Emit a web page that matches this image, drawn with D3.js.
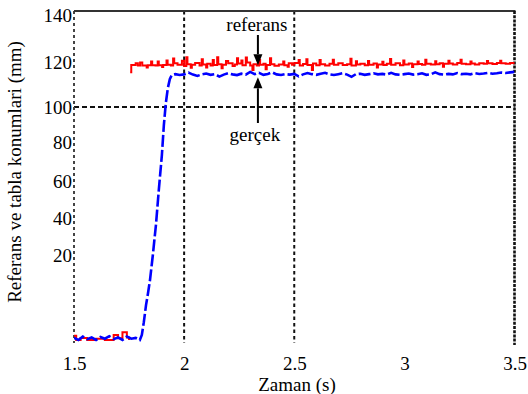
<!DOCTYPE html>
<html>
<head>
<meta charset="utf-8">
<script src="https://cdn.jsdelivr.net/npm/d3@7/dist/d3.min.js"></script>
<style>
  html, body { margin: 0; padding: 0; background: #fff; }
  svg { display: block; }
</style>
</head>
<body>
<svg id="chart" width="528" height="394"></svg>
<script>
// ---------- data ----------
const xTicks = [1.5, 2, 2.5, 3, 3.5];
const yTicks = [20, 40, 60, 80, 100, 120, 140];
const gridX = [2, 2.5];
const gridY = [100];
const xLabel = "Zaman (s)";
const yLabel = "Referans ve tabla konumlari (mm)";
const annoLabels = ["referans", "gerçek"];

// reference signal, before and after the step (s, mm)
const refLow = [[1.50,1.0],[1.51,0],[1.53,0.5],[1.56,0],[1.60,0.3],[1.64,0],[1.68,1.2],[1.70,0.4],[1.72,1.8],[1.74,0.6],[1.75,0]];
const refHigh = [
  [1.755,115.5],[1.76,118.7],[1.78,119.5],[1.79,118.4],[1.80,119.8],[1.81,118.5],[1.83,117.6],[1.835,118.6],[1.85,120.2],[1.855,118.6],
  [1.87,118.5],[1.88,120.2],[1.885,118.6],[1.90,117.8],[1.905,118.7],[1.92,120.6],[1.925,118.8],[1.94,118.4],[1.95,121.5],[1.955,119.5],
  [1.97,118.8],[1.99,120.5],[2.00,118.2],[2.01,122.0],[2.015,119.0],[2.03,117.5],[2.035,118.8],[2.05,119.6],[2.07,118.4],[2.08,121.2],
  [2.085,118.9],[2.10,117.6],[2.105,119.2],[2.12,118.5],[2.13,120.8],[2.135,118.7],[2.15,122.0],[2.155,119.0],[2.17,117.2],[2.175,118.8],
  [2.19,120.4],[2.20,119.5],[2.22,118.2],[2.23,118.9],[2.24,121.6],[2.245,119.3],[2.26,120.6],[2.265,118.6],[2.28,121.9],[2.285,119.8],
  [2.30,118.4],[2.31,116.4],[2.315,119.0],[2.33,118.5],[2.34,121.0],[2.345,118.8],[2.36,119.2],[2.37,116.8],[2.375,118.7],[2.39,121.6],
  [2.395,119.0],[2.41,118.3],[2.43,118.9],[2.45,120.2],[2.455,118.6],[2.47,117.9],[2.475,119.4],[2.49,118.8],[2.50,119.6],[2.52,120.8],
  [2.525,118.5],[2.54,119.1],[2.555,121.2],[2.56,118.7],[2.58,116.5],[2.585,119.3],[2.60,118.6],[2.615,120.9],[2.62,119.0],[2.64,118.4],
  [2.66,119.2],[2.675,121.0],[2.68,118.8],[2.70,119.5],[2.72,118.7],[2.74,119.0],[2.755,121.4],[2.76,118.5],[2.78,120.3],[2.785,118.9],
  [2.80,119.2],[2.82,118.6],[2.835,120.4],[2.84,118.8],[2.86,119.3],[2.875,117.6],[2.88,118.9],[2.90,120.1],[2.905,118.7],[2.92,119.2],
  [2.935,121.3],[2.94,118.8],[2.96,119.4],[2.98,118.6],[2.995,120.6],[3.00,118.9],[3.02,119.3],[3.035,117.8],[3.04,119.0],[3.06,120.2],
  [3.065,119.1],[3.08,118.8],[3.095,121.0],[3.10,119.2],[3.12,118.9],[3.14,120.3],[3.145,119.0],[3.16,119.4],[3.175,117.9],[3.18,119.2],
  [3.20,120.5],[3.205,119.3],[3.22,118.9],[3.24,119.6],[3.255,121.0],[3.26,119.2],[3.28,119.0],[3.30,120.2],[3.305,119.3],[3.32,118.9],
  [3.34,119.5],[3.36,119.2],[3.375,120.4],[3.38,119.4],[3.40,119.1],[3.42,119.6],[3.435,120.5],[3.44,119.4],[3.46,119.2],[3.48,119.6],
  [3.50,119.0]
];

// actual table position (s, mm)
const actual = [
  [1.50,0.5],[1.52,0],[1.54,0.8],[1.56,0.2],[1.58,0.6],[1.60,0],[1.62,0.7],[1.64,0.3],[1.66,0.9],[1.68,0.2],
  [1.70,0.6],[1.72,0],[1.74,0.8],[1.76,0.3],[1.78,0.5],[1.799,0],[1.808,1.2],[1.817,4.2],[1.827,8.2],[1.836,11],
  [1.845,14.1],[1.858,20],[1.872,36.2],[1.885,55.1],[1.899,73.3],[1.908,89.7],[1.917,101.8],[1.926,108.4],
  [1.935,112.4],[1.944,114.2],
  [1.96,114.6],[1.98,114.2],[2.00,114.5],[2.02,115.3],[2.04,114.4],[2.06,113.8],[2.08,114.5],[2.10,114.9],
  [2.12,114.3],[2.14,114.6],[2.16,113.5],[2.18,114.4],[2.20,115.0],[2.22,114.5],[2.24,114.2],[2.26,114.8],
  [2.28,114.4],[2.30,115.6],[2.32,114.6],[2.34,115.2],[2.36,114.3],[2.38,114.7],[2.40,115.4],[2.42,114.5],
  [2.44,114.2],[2.46,114.6],[2.48,114.4],[2.50,114.7],[2.52,113.6],[2.54,114.5],[2.56,115.1],[2.58,114.6],
  [2.60,114.3],[2.62,114.8],[2.64,115.2],[2.66,114.5],[2.68,114.2],[2.70,114.6],[2.72,115.0],[2.74,114.4],
  [2.76,113.4],[2.78,114.6],[2.80,114.8],[2.82,114.3],[2.84,114.6],[2.86,115.0],[2.88,114.5],[2.90,114.7],
  [2.92,114.4],[2.94,115.2],[2.96,114.5],[2.98,114.3],[3.00,114.6],[3.02,114.9],[3.04,114.4],[3.06,114.6],
  [3.08,115.0],[3.10,114.3],[3.12,114.5],[3.14,115.4],[3.16,114.6],[3.18,114.4],[3.20,114.7],[3.22,114.5],
  [3.24,115.1],[3.26,114.6],[3.28,114.8],[3.30,114.5],[3.32,115.0],[3.34,114.7],[3.36,114.9],[3.38,115.2],
  [3.40,114.8],[3.42,115.0],[3.44,115.3],[3.46,115.1],[3.48,115.4],[3.50,115.6]
];

// ---------- layout ----------
const svg = d3.select("#chart");
const pLeft = 74, pRight = 514.5, pTop = 11, pBottom = 343;
const FS = 19;
const FONT = "Liberation Serif";

const x = d3.scaleLinear().domain([1.5, 3.5]).range([pLeft, pRight]);
// the original axis labels are unevenly spaced; a piecewise linear scale reproduces them
const y = d3.scaleLinear()
  .domain([0, 20, 40, 60, 80, 100, 120, 140])
  .range([340, 255, 218, 181, 142, 107, 62, 15]);

svg.append("defs").append("clipPath").attr("id", "clip")
  .append("rect").attr("x", pLeft).attr("y", pTop).attr("width", pRight - pLeft).attr("height", pBottom - pTop + 2);

// ---------- grid ----------
svg.append("g").selectAll("line").data(gridX).join("line")
  .attr("x1", d => x(d)).attr("x2", d => x(d))
  .attr("y1", pTop).attr("y2", pBottom)
  .attr("stroke", "#111").attr("stroke-width", 2).attr("stroke-dasharray", "3.5,3");

svg.append("g").selectAll("line").data(gridY).join("line")
  .attr("x1", pLeft).attr("x2", pRight)
  .attr("y1", d => y(d)).attr("y2", d => y(d))
  .attr("stroke", "#111").attr("stroke-width", 2).attr("stroke-dasharray", "5,3");

// frame
svg.append("line").attr("x1", pLeft).attr("x2", pLeft).attr("y1", pTop).attr("y2", pBottom)
  .attr("stroke", "#444").attr("stroke-width", 2).attr("stroke-dasharray", "3,3");
svg.append("line").attr("x1", pLeft).attr("x2", pRight + 1).attr("y1", pTop).attr("y2", pTop)
  .attr("stroke", "#333").attr("stroke-width", 2.2);
svg.append("line").attr("x1", pRight).attr("x2", pRight).attr("y1", pTop).attr("y2", pBottom + 2)
  .attr("stroke", "#111").attr("stroke-width", 2.6).attr("stroke-dasharray", "3,1.2");

// ---------- axes ----------
const xAxis = svg.append("g").attr("transform", `translate(0,${pBottom})`)
  .call(d3.axisBottom(x).tickValues(xTicks).tickSize(0).tickPadding(0).tickFormat(d => String(d)));
xAxis.attr("font-family", FONT).attr("font-size", FS);
xAxis.select(".domain").remove();
xAxis.selectAll("text").attr("dy", null).attr("y", 27).attr("fill", "#000")
  .style("font-family", FONT).style("font-size", FS + "px");

const yAxis = svg.append("g").attr("transform", `translate(${pLeft},0)`)
  .call(d3.axisLeft(y).tickValues(yTicks).tickSize(0).tickPadding(2).tickFormat(d => String(d)));
yAxis.attr("font-family", FONT).attr("font-size", FS);
yAxis.select(".domain").remove();
yAxis.selectAll("text").attr("dy", "0.33em").attr("fill", "#000")
  .style("font-family", FONT).style("font-size", FS + "px");

function label(sel) {
  return sel.attr("font-family", FONT).attr("font-size", FS).attr("fill", "#000")
    .style("font-family", FONT).style("font-size", FS + "px");
}

label(svg.append("text")).attr("x", 297).attr("y", 391).attr("text-anchor", "middle").text(xLabel);
label(svg.append("text")).attr("transform", "translate(21,172) rotate(-90)").attr("text-anchor", "middle").text(yLabel);

// ---------- series ----------
const plot = svg.append("g").attr("clip-path", "url(#clip)");
const stepLine = d3.line().x(d => x(d[0])).y(d => y(d[1])).curve(d3.curveStepAfter);
const linLine = d3.line().x(d => x(d[0])).y(d => y(d[1]));

[refLow, refHigh].forEach(seg => {
  plot.append("path").datum(seg).attr("d", stepLine)
    .attr("fill", "none").attr("stroke", "#ff0000").attr("stroke-width", 2);
});

plot.append("path").datum(actual).attr("d", linLine)
  .attr("fill", "none").attr("stroke", "#0000ff").attr("stroke-width", 2.6)
  .attr("stroke-dasharray", "12,3");

// ---------- annotations ----------
function arrow(xp, yFrom, yTip) {
  const dir = Math.sign(yTip - yFrom);
  const headLen = 11, headW = 4.5;
  svg.append("line").attr("x1", xp).attr("x2", xp).attr("y1", yFrom).attr("y2", yTip - dir * headLen)
    .attr("stroke", "#000").attr("stroke-width", 2);
  svg.append("path")
    .attr("d", `M${xp - headW},${yTip - dir * headLen} L${xp + headW},${yTip - dir * headLen} L${xp},${yTip} Z`)
    .attr("fill", "#000");
}
const ax = x(2.335);
label(svg.append("text")).attr("x", ax - 1).attr("y", 31).attr("text-anchor", "middle").text(annoLabels[0]);
arrow(ax, 35, y(118.6));
label(svg.append("text")).attr("x", ax - 3).attr("y", 141).attr("text-anchor", "middle").text(annoLabels[1]);
arrow(ax, 123, y(113.2));
</script>
</body>
</html>
